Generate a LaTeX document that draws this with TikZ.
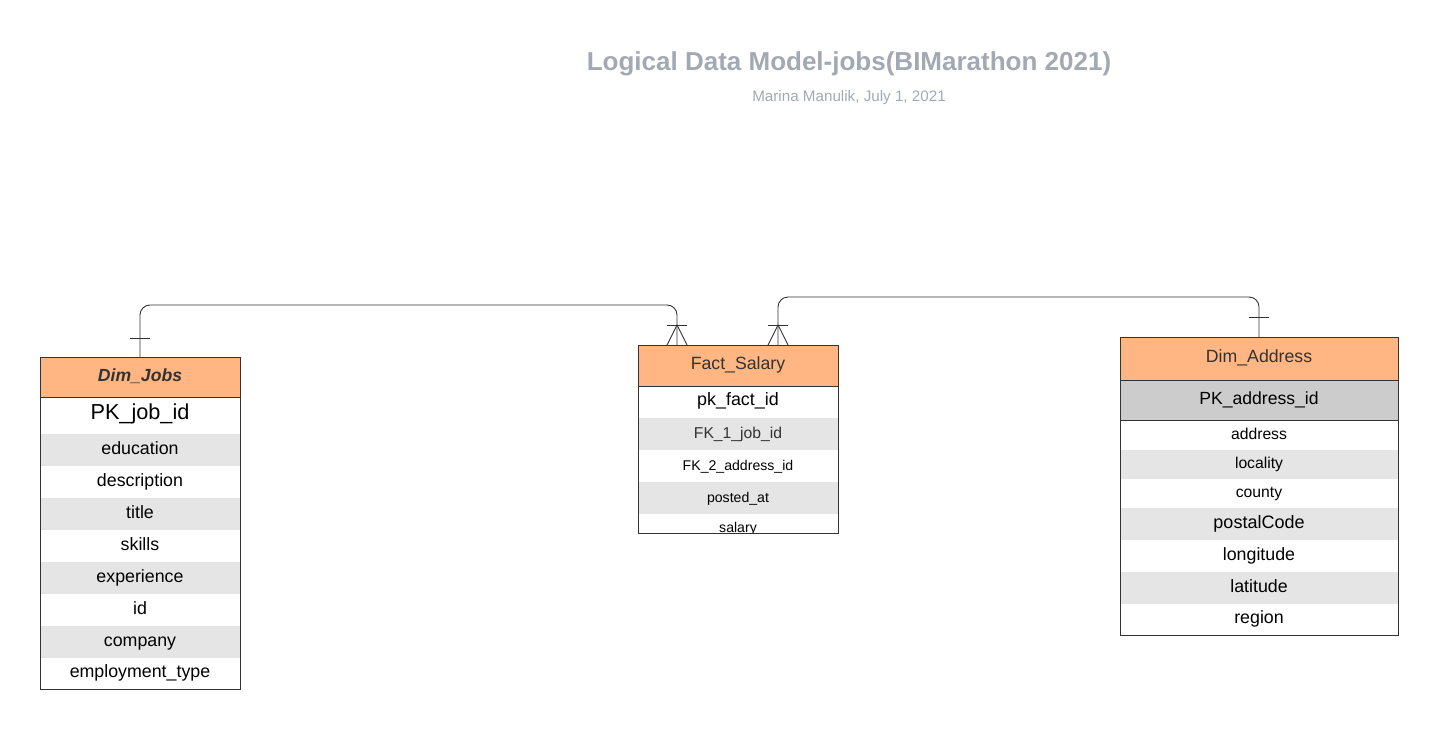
\documentclass[tikz,border=0pt]{standalone}
\usepackage{fontspec}
\setmainfont{Liberation Sans}
\usetikzlibrary{calc}
\definecolor{hdr}{RGB}{255,182,130}
\definecolor{gry}{RGB}{229,229,229}
\definecolor{pkg}{RGB}{204,204,204}
\definecolor{ttl}{RGB}{163,169,179}
\definecolor{ink}{RGB}{51,51,51}
\tikzset{
  cell/.style={inner sep=0pt, outer sep=0pt, minimum width=#1, text=black, text height=1.0em, text depth=0.2em},
  hdrcell/.style={fill=hdr, text=ink},
  grey/.style={fill=gry},
  conn/.style={draw=ink, line width=0.9pt},
  frame/.style={draw=ink, line width=0.9pt},
}
\newcommand{\fs}[1]{\fontsize{#1}{#1}\selectfont}
\begin{document}
\begin{tikzpicture}[x=1pt,y=-1pt]
\useasboundingbox (0,0) rectangle (1439,730);
% title
\node[text=ttl, font=\fs{26}\bfseries] (title) at (849,64) {Logical Data Model-jobs(BIMarathon 2021)};
\node[text=ttl, font=\fs{15.2}] (sub) at (849,98) {Marina Manulik, July 1, 2021};

% Dim_Jobs
\node[cell=200pt, hdrcell, minimum height=40pt, font=\fs{17.6}\bfseries\itshape] (jh) at (140,377) {Dim\_Jobs};
\node[cell=200pt, minimum height=37pt, font=\fs{21.7}] (j0) at (140,415) {PK\_job\_id};
\node[cell=200pt, grey, minimum height=32pt, font=\fs{17.8}] (j1) at (140,450) {education};
\node[cell=200pt, minimum height=32pt, font=\fs{17.8}] (j2) at (140,482) {description};
\node[cell=200pt, grey, minimum height=32pt, font=\fs{17.8}] (j3) at (140,514) {title};
\node[cell=200pt, minimum height=32pt, font=\fs{17.8}] (j4) at (140,546) {skills};
\node[cell=200pt, grey, minimum height=32pt, font=\fs{17.8}] (j5) at (140,578) {experience};
\node[cell=200pt, minimum height=32pt, font=\fs{17.8}] (j6) at (140,610) {id};
\node[cell=200pt, grey, minimum height=32pt, font=\fs{17.8}] (j7) at (140,642) {company};
\node[cell=200pt, minimum height=31pt, font=\fs{17.8}] (j8) at (140,673.5) {employment\_type};
\draw[frame] (jh.north west) rectangle (j8.south east);
\draw[frame] (jh.south west) -- (jh.south east);

% Fact_Salary
\node[cell=200pt, hdrcell, minimum height=41pt, font=\fs{17.7}] (fh) at (738,365.5) {Fact\_Salary};
\node[cell=200pt, minimum height=32pt, font=\fs{17.9}] (f0) at (738,401) {pk\_fact\_id};
\node[cell=200pt, grey, minimum height=32pt, font=\fs{15.7}, text=ink] (f1) at (738,434) {FK\_1\_job\_id};
\node[cell=200pt, minimum height=32pt, font=\fs{14.1}] (f2) at (738,466) {FK\_2\_address\_id};
\node[cell=200pt, grey, minimum height=32pt, font=\fs{14.1}] (f3) at (738,498) {posted\_at};
\coordinate (fbot) at (838,533);
\begin{scope}
\clip (f3.south west) rectangle (fbot);
\node[cell=200pt, minimum height=32pt, font=\fs{14.1}] (f4) at (738,528) {salary};
\end{scope}
\draw[frame] (fh.north west) rectangle (fbot);
\draw[frame] (fh.south west) -- (fh.south east);

% Dim_Address
\node[cell=278pt, hdrcell, minimum height=43pt, font=\fs{17.7}] (ah) at (1259,358.5) {Dim\_Address};
\node[cell=278pt, fill=pkg, minimum height=40pt, font=\fs{17.6}] (a0) at (1259,400) {PK\_address\_id};
\node[cell=278pt, minimum height=30pt, font=\fs{15.7}] (a1) at (1259,435) {address};
\node[cell=278pt, grey, minimum height=29pt, font=\fs{15.7}] (a2) at (1259,464.5) {locality};
\node[cell=278pt, minimum height=29pt, font=\fs{15.7}] (a3) at (1259,493.5) {county};
\node[cell=278pt, grey, minimum height=32pt, font=\fs{18}] (a4) at (1259,524) {postalCode};
\node[cell=278pt, minimum height=32pt, font=\fs{17.8}] (a5) at (1259,556) {longitude};
\node[cell=278pt, grey, minimum height=32pt, font=\fs{17.8}] (a6) at (1259,588) {latitude};
\node[cell=278pt, minimum height=31pt, font=\fs{17.8}] (a7) at (1259,619.5) {region};
\draw[frame] (ah.north west) rectangle (a7.south east);
\draw[frame] (ah.south west) -- (ah.south east);
\draw[frame] (a0.south west) -- (a0.south east);

% connectors
\coordinate (fj) at ($(fh.north west)+(39,0)$);
\coordinate (fa) at ($(fh.north west)+(140,0)$);
\draw[conn, rounded corners=10pt] (jh.north) -- ++(0,-52) -| (fj);
\draw[conn, rounded corners=10pt] (ah.north) -- ++(0,-40) -| (fa);
% one marks
\draw[conn] ($(jh.north)+(-10,-19)$) -- ++(20,0);
\draw[conn] ($(ah.north)+(-10,-20)$) -- ++(20,0);
% many marks
\draw[conn] ($(fj)+(-10,-20)$) -- ++(20,0);
\draw[conn] ($(fj)+(-10,0)$) -- ($(fj)+(0,-20)$) -- ($(fj)+(10,0)$);
\draw[conn] ($(fa)+(-10,-20)$) -- ++(20,0);
\draw[conn] ($(fa)+(-10,0)$) -- ($(fa)+(0,-20)$) -- ($(fa)+(10,0)$);
\end{tikzpicture}
\end{document}
